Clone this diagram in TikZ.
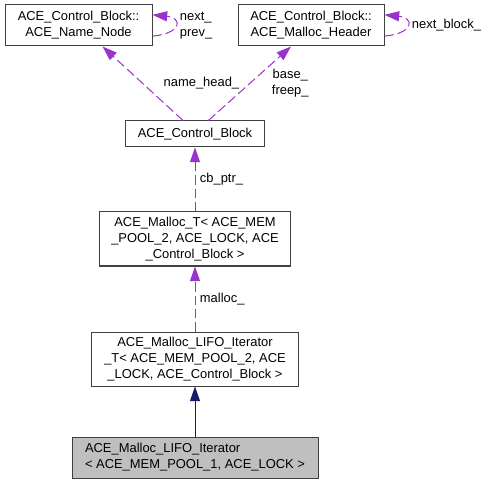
\documentclass[tikz,border=0pt]{standalone}
\usepackage{fontspec}
\setmainfont{Liberation Sans}
\usepackage{xcolor}
\usepackage{tikz}
\usetikzlibrary{positioning,arrows.meta}
\definecolor{edgepurple}{HTML}{9A32CD}
\definecolor{edgenavy}{HTML}{191970}
\tikzset{
block/.style={
  draw=black!75,
  line width=0.75pt,
  rectangle,
  align=center,
  inner sep=0pt,
  font=\fontsize{9.7}{12}\selectfont
  },
member/.style={-{Triangle[length=11pt,width=7.5pt]}, draw=edgepurple, text=black,
  line width=0.75pt, dash pattern=on 7pt off 3pt, font=\fontsize{9.7}{12}\selectfont},
inherit/.style={-{Triangle[length=11pt,width=7.5pt]}, edgenavy, line width=0.75pt}
}

\begin{document}
\begin{tikzpicture}[x=0.75pt,y=-0.75pt]
\useasboundingbox (0,0) rectangle (488,484);
\node[block, minimum width=110.25pt, minimum height=30.75pt](nn) at (78.5,25.5)
  {ACE\_Control\_Block::\\ACE\_Name\_Node};
\node[block, minimum width=109.5pt, minimum height=30.75pt, right=63.75pt of nn](mh)
  {ACE\_Control\_Block::\\ACE\_Malloc\_Header};
\node[block, fill=black!25, minimum width=184.5pt, minimum height=30.75pt, align=left](bt) at (195,457.5)
  {ACE\_Malloc\_LIFO\_Iterator\\< ACE\_MEM\_POOL\_1, ACE\_LOCK >};
\node[block, minimum width=155.25pt, minimum height=40.5pt, above=37.5pt of bt](lt)
  {ACE\_Malloc\_LIFO\_Iterator\\\_T< ACE\_MEM\_POOL\_2, ACE\\\_LOCK, ACE\_Control\_Block >};
\node[block, minimum width=143.25pt, minimum height=40.5pt, above=48.75pt of lt](mt)
  {ACE\_Malloc\_T< ACE\_MEM\\\_POOL\_2, ACE\_LOCK, ACE\\\_Control\_Block >};
\node[block, minimum width=104.25pt, minimum height=19.5pt, above=48pt of mt](cb)
  {ACE\_Control\_Block};
\draw[inherit] (bt.north) -- (lt.south);
\draw[member] (lt.north) -- node[right] {malloc\_} (mt.south);
\draw[member] (mt.north) -- node[right] {cb\_ptr\_} (cb.south);
\draw[member] ([xshift=-9pt]cb.north) -- node[right=12pt] {name\_head\_} ([xshift=18pt]nn.south);
\draw[member] ([xshift=10pt]cb.north) -- node[right=13pt, align=center] {base\_\\freep\_} ([xshift=-15pt]mh.south);
% self references
\draw[member] ([yshift=-8pt]nn.east) .. controls +(30,-3) and +(30,3) .. node[right, align=left] {next\_\\prev\_} ([yshift=8pt]nn.east);
\draw[member] ([yshift=-8pt]mh.east) .. controls +(30,-3) and +(30,3) .. node[right] {next\_block\_} ([yshift=8pt]mh.east);
\end{tikzpicture}
\end{document}
